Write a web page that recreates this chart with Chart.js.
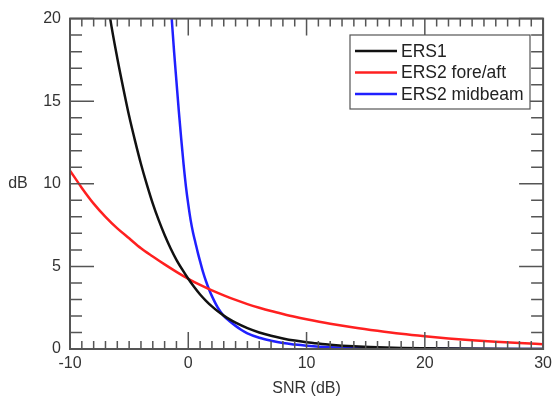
<!DOCTYPE html>
<html>
<head>
<meta charset="utf-8">
<script src="https://cdn.jsdelivr.net/npm/chart.js@4"></script>
<style>
  html, body { margin: 0; padding: 0; background: #fff; }
  #wrap { width: 557px; height: 398px; position: relative; }
</style>
</head>
<body>
<div id="wrap"><canvas id="snrChart"></canvas></div>
<script>
// values
const ers1X = [-7.2, -6.6, -6, -5.5, -5, -4.5, -4, -3.5, -3, -2.5, -2, -1.5, -1, -0.5, 0, 0.5, 1, 1.5, 2, 2.5, 3, 3.5, 4, 5, 6, 7, 8, 9, 10, 11, 12, 14, 16, 18, 20, 25, 30];
const ers1Y = [23, 20, 17.6, 15.8, 14.1, 12.6, 11.2, 9.95, 8.8, 7.8, 6.9, 6.1, 5.4, 4.8, 4.25, 3.75, 3.3, 2.92, 2.58, 2.28, 2.02, 1.79, 1.59, 1.26, 1.0, 0.8, 0.64, 0.51, 0.41, 0.33, 0.26, 0.16, 0.1, 0.06, 0.04, 0.01, 0.0];
const foreX = [-10, -9, -8, -7, -6, -5, -4, -3, -2, -1, 0, 1, 2, 3, 4, 5, 6, 7, 8, 9, 10, 12, 14, 16, 18, 20, 22, 24, 26, 28, 30];
const foreY = [10.8, 9.75, 8.8, 8.0, 7.3, 6.7, 6.1, 5.6, 5.12, 4.67, 4.25, 3.88, 3.55, 3.25, 2.97, 2.72, 2.5, 2.3, 2.12, 1.95, 1.8, 1.53, 1.3, 1.1, 0.92, 0.77, 0.64, 0.53, 0.44, 0.36, 0.29];
const midX = [-1.6, -1.4, -1.2, -1.0, -0.8, -0.6, -0.4, -0.2, 0, 0.2, 0.4, 0.6, 0.8, 1.0, 1.25, 1.5, 1.75, 2.0, 2.5, 3.0, 3.5, 4, 4.5, 5, 6, 7, 8, 9, 10, 12, 15, 20, 30];
const midY = [22, 20, 18.0, 16.2, 14.4, 12.75, 11.2, 9.85, 8.75, 7.8, 7.05, 6.45, 5.85, 5.3, 4.65, 4.1, 3.62, 3.2, 2.5, 2.0, 1.68, 1.4, 1.15, 0.95, 0.68, 0.5, 0.36, 0.27, 0.2, 0.1, 0.04, 0.01, 0];
const seriesNames = ['ERS1', 'ERS2 fore/aft', 'ERS2 midbeam'];
const seriesColors = ['#111111', '#ff2020', '#2020ff'];

const pts = (xs, ys) => xs.map((x, i) => ({ x, y: ys[i] }));
const FONT = '"Liberation Sans", Arial, sans-serif';
const textCol = '#333';

// inward ticks on all four sides + frame, drawn through the scales
const frameTicks = {
    id: 'frameTicks',
    afterDatasetsDraw(chart) {
        const { ctx, chartArea: a, scales: { x, y } } = chart;
        ctx.save();
        ctx.strokeStyle = '#555';
        ctx.lineWidth = 1.5;
        for (let v = -10; v <= 30; v++) {
            const px = x.getPixelForValue(v);
            const len = v % 10 === 0 ? 17 : 8;
            ctx.beginPath();
            ctx.moveTo(px, a.bottom); ctx.lineTo(px, a.bottom - len);
            ctx.moveTo(px, a.top); ctx.lineTo(px, a.top + len);
            ctx.stroke();
        }
        for (let v = 0; v <= 20; v++) {
            const py = y.getPixelForValue(v);
            const len = v % 5 === 0 ? 24 : 12;
            ctx.beginPath();
            ctx.moveTo(a.left, py); ctx.lineTo(a.left + len, py);
            ctx.moveTo(a.right, py); ctx.lineTo(a.right - len, py);
            ctx.stroke();
        }
        ctx.lineWidth = 2;
        ctx.strokeRect(a.left, a.top, a.right - a.left, a.bottom - a.top);

        // y title, horizontal
        ctx.fillStyle = textCol;
        ctx.font = '16px ' + FONT;
        ctx.textAlign = 'center';
        ctx.textBaseline = 'middle';
        ctx.fillText('dB', 18, (a.top + a.bottom) / 2);

        // legend box
        const bx = 350, by = 35, bw = 180, bh = 74;
        ctx.fillStyle = '#fff';
        ctx.fillRect(bx, by, bw, bh);
        ctx.strokeStyle = '#555';
        ctx.lineWidth = 1.2;
        ctx.strokeRect(bx, by, bw, bh);
        ctx.font = '17.5px ' + FONT;
        ctx.textAlign = 'left';
        chart.data.datasets.forEach((ds, i) => {
            const ly = by + 16 + i * 21.5;
            ctx.strokeStyle = ds.borderColor;
            ctx.lineWidth = 2.5;
            ctx.beginPath();
            ctx.moveTo(bx + 5, ly); ctx.lineTo(bx + 47, ly);
            ctx.stroke();
            ctx.fillStyle = '#222';
            ctx.fillText(ds.label, bx + 51, ly + 1);
        });
        ctx.restore();
    }
};

const mk = (i, data) => ({
    label: seriesNames[i], data, borderColor: seriesColors[i], borderWidth: 2.5,
    pointRadius: 0, fill: false, cubicInterpolationMode: 'monotone'
});

new Chart(document.getElementById('snrChart'), {
    type: 'line',
    data: { datasets: [mk(0, pts(ers1X, ers1Y)), mk(1, pts(foreX, foreY)), mk(2, pts(midX, midY))] },
    options: {
        responsive: true, maintainAspectRatio: false, animation: false,
        layout: { padding: { left: 0, right: 9, top: 14, bottom: 0 } },
        plugins: { legend: { display: false }, tooltip: { enabled: false } },
        scales: {
            x: {
                type: 'linear', min: -10, max: 30,
                grid: { display: false, drawTicks: false }, border: { display: false },
                ticks: { stepSize: 10, padding: 5, color: textCol, font: { family: FONT, size: 16 } },
                title: { display: true, text: 'SNR (dB)', color: textCol, padding: { top: 4, bottom: 0 }, font: { family: FONT, size: 16 } },
                afterFit: s => { s.height = 49; }
            },
            y: {
                min: 0, max: 20,
                grid: { display: false, drawTicks: false }, border: { display: false },
                ticks: { stepSize: 5, padding: 9, color: textCol, font: { family: FONT, size: 16 } },
                afterFit: s => { s.width = 70; }
            }
        }
    },
    plugins: [frameTicks]
});
</script>
</body>
</html>
